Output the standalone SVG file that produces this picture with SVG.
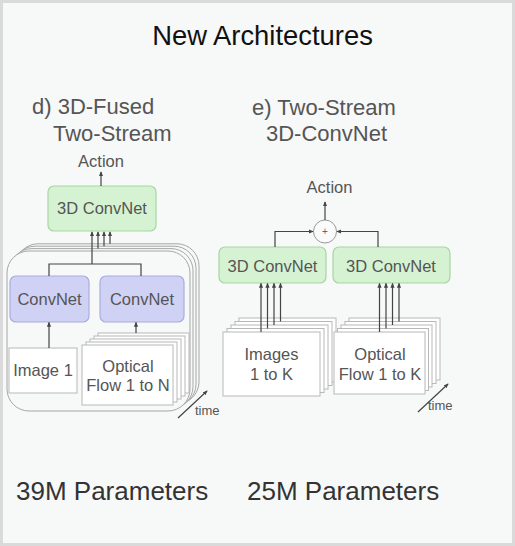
<svg xmlns="http://www.w3.org/2000/svg" width="515" height="546" viewBox="0 0 515 546">
<defs>
<marker id="ah" viewBox="0 0 6 6" refX="5" refY="3" markerWidth="5" markerHeight="5" orient="auto" markerUnits="userSpaceOnUse">
<path d="M0,0.5 L6,3 L0,5.5 Z" fill="#444"/>
</marker>
<style>
text{font-family:"Liberation Sans",Arial,sans-serif;}
.t{fill:#555;font-size:22px;}
.lbl{fill:#555;font-size:16.5px;text-anchor:middle;}
.act{fill:#555;font-size:16.5px;text-anchor:middle;}
.par{fill:#333;font-size:26px;}
.green{fill:#d5f3d2;stroke:#a8d6a2;stroke-width:1.2;}
.purple{fill:#cfd1f5;stroke:#a9acdc;stroke-width:1.2;}
.sheet{fill:#ffffff;stroke:#b8b8b8;stroke-width:1;}
.outer{fill:#f7f8f8;stroke:#a6a6a6;stroke-width:1;}
.c{fill:none;stroke:#444;stroke-width:1.2;}
.ar{fill:none;stroke:#444;stroke-width:1.2;marker-end:url(#ah);}
.time{fill:#555;font-size:13px;}
</style>
</defs>
<rect x="0" y="0" width="515" height="546" fill="#dadada"/>
<rect x="3" y="3" width="509" height="540" fill="#f7f8f8"/>

<text x="262.5" y="45" fill="#111" text-anchor="middle" style="font-size:27.4px">New Architectures</text>

<text class="t" x="32" y="114">d) 3D-Fused</text>
<text class="t" x="53" y="141">Two-Stream</text>
<text class="t" x="252" y="115">e) Two-Stream</text>
<text class="t" x="266" y="141">3D-ConvNet</text>

<g id="left-stack">
<rect class="outer" x="16" y="243.8" width="183" height="160" rx="22"/>
<rect class="outer" x="13" y="246.2" width="183" height="160" rx="22"/>
<rect class="outer" x="10" y="248.6" width="183" height="160" rx="22"/>
<rect class="outer" x="7" y="251" width="183" height="160" rx="22"/>
</g>

<g id="left-3dconvnet">
<rect class="green" x="48" y="186" width="108" height="45" rx="6"/>
<text class="lbl" x="102" y="214">3D ConvNet</text>
</g>
<text class="act" x="101" y="167" id="left-action">Action</text>

<g id="convnet-1">
<rect class="purple" x="10" y="276" width="79" height="46" rx="6"/>
<text class="lbl" x="49.5" y="305">ConvNet</text>
</g>
<g id="convnet-2">
<rect class="purple" x="100" y="276" width="84" height="46" rx="6"/>
<text class="lbl" x="142" y="305">ConvNet</text>
</g>

<g id="image-1">
<rect class="sheet" x="9" y="348" width="68" height="45"/>
<text class="lbl" x="43" y="376">Image 1</text>
</g>

<g id="optical-flow-n">
<rect class="sheet" x="98" y="333" width="91" height="60"/>
<rect class="sheet" x="94" y="336" width="91" height="60"/>
<rect class="sheet" x="90" y="339" width="91" height="60"/>
<rect class="sheet" x="86" y="342" width="91" height="60"/>
<rect class="sheet" x="82" y="345" width="91" height="60"/>
<text class="lbl" x="128" y="372">Optical</text>
<text class="lbl" x="128" y="391">Flow 1 to N</text>
</g>

<g id="right-3dconvnet-1">
<rect class="green" x="219" y="247" width="107" height="36" rx="6"/>
<text class="lbl" x="272.5" y="272">3D ConvNet</text>
</g>
<g id="right-3dconvnet-2">
<rect class="green" x="333" y="247" width="117" height="36" rx="6"/>
<text class="lbl" x="391" y="272">3D ConvNet</text>
</g>

<g id="sum">
<circle cx="325" cy="231.5" r="11.5" fill="#fbfbfb" stroke="#999" stroke-width="1"/>
<text x="325" y="235" fill="#666" text-anchor="middle" style="font-size:10px">+</text>
</g>
<text class="act" x="329.5" y="193" id="right-action">Action</text>

<g id="images-k">
<rect class="sheet" x="239" y="318" width="97" height="64"/>
<rect class="sheet" x="235" y="321.5" width="97" height="64"/>
<rect class="sheet" x="231" y="325" width="97" height="64"/>
<rect class="sheet" x="227" y="328.5" width="97" height="64"/>
<rect class="sheet" x="223" y="332" width="97" height="64"/>
<text class="lbl" x="271.5" y="360">Images</text>
<text class="lbl" x="271.5" y="380">1 to K</text>
</g>

<g id="optical-flow-k">
<rect class="sheet" x="349" y="318" width="91" height="62"/>
<rect class="sheet" x="345" y="321.5" width="91" height="62"/>
<rect class="sheet" x="341" y="325" width="91" height="62"/>
<rect class="sheet" x="337.5" y="328.5" width="91" height="62"/>
<rect class="sheet" x="334" y="332" width="91" height="62"/>
<text class="lbl" x="380" y="360">Optical</text>
<text class="lbl" x="380" y="380">Flow 1 to K</text>
</g>

<g id="connectors">
<path class="ar" d="M101,186 V172"/>
<path class="ar" d="M92,264 V232"/>
<path class="ar" d="M98,248.6 V232"/>
<path class="ar" d="M104,246.2 V232"/>
<path class="ar" d="M110,243.8 V232"/>
<path class="c" d="M49,276 V264 H141 V276"/>
<path class="ar" d="M49,348 V322.5"/>
<path class="ar" d="M136,333 V322.5"/>
<path class="ar" d="M178,418 L207,391"/>

<path class="ar" d="M325,220 V202"/>
<path class="ar" d="M275,247 V231.5 H313"/>
<path class="ar" d="M378,247 V231.5 H337"/>
<path class="ar" d="M261,332 V283.5"/>
<path class="ar" d="M267.5,328.5 V283.5"/>
<path class="ar" d="M274,325 V283.5"/>
<path class="ar" d="M280.5,321.5 V283.5"/>
<path class="ar" d="M379.5,332 V283.5"/>
<path class="ar" d="M386,328.5 V283.5"/>
<path class="ar" d="M392.5,325 V283.5"/>
<path class="ar" d="M399,321.5 V283.5"/>
<path class="ar" d="M418,412 L448,384"/>
</g>
<text class="time" x="195" y="415">time</text>
<text class="time" x="428" y="410">time</text>

<text class="par" x="16" y="500">39M Parameters</text>
<text class="par" x="247" y="500">25M Parameters</text>
</svg>
